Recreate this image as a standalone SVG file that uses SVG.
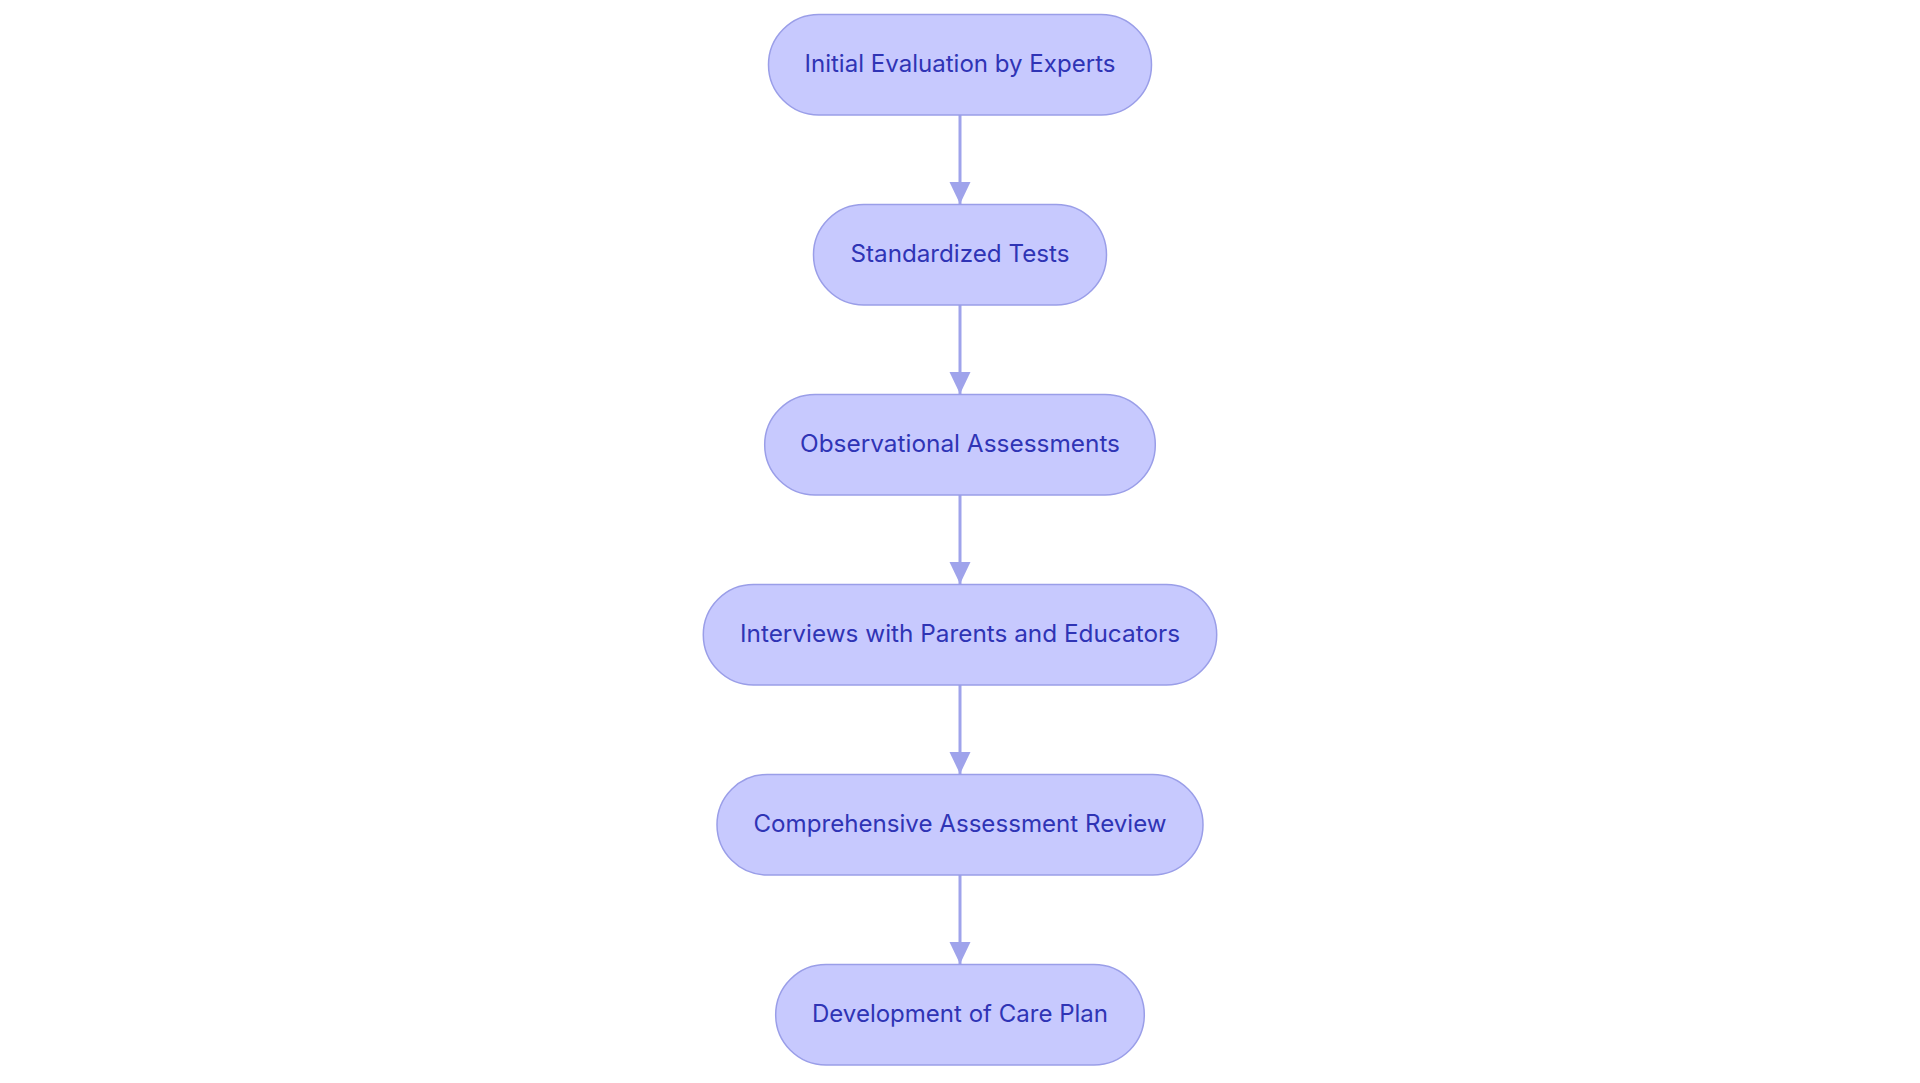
<svg xmlns="http://www.w3.org/2000/svg" width="1920" height="1083" viewBox="0 0 1920 1083">
<style>
.node rect{fill:#C7C9FE;stroke:#9A9EE8;stroke-width:1.5}
.node text{font-family:Inter,"Liberation Sans",sans-serif;font-size:24px;font-weight:400;fill:#2F34B5;text-anchor:middle}
.edge{stroke:#9FA3EB;stroke-width:3;fill:none}
</style>
<defs>
<marker id="arrow" markerUnits="userSpaceOnUse" markerWidth="24" markerHeight="24" refX="22" refY="10.5" orient="auto">
<path d="M0,0 L22,10.5 L0,21 z" fill="#9FA3EB"/>
</marker>
</defs>
<rect width="1920" height="1083" fill="#FFFFFF"/>
<g id="connectors">
<line class="edge" x1="960" y1="115" x2="960" y2="204" marker-end="url(#arrow)"/>
<line class="edge" x1="960" y1="305" x2="960" y2="394" marker-end="url(#arrow)"/>
<line class="edge" x1="960" y1="495" x2="960" y2="584" marker-end="url(#arrow)"/>
<line class="edge" x1="960" y1="685" x2="960" y2="774" marker-end="url(#arrow)"/>
<line class="edge" x1="960" y1="875" x2="960" y2="964" marker-end="url(#arrow)"/>
</g>
<g id="n1" class="node">
<rect x="768.5" y="14.5" width="383" height="100.5" rx="50.25"/>
<text x="960" y="71.5" textLength="311" lengthAdjust="spacingAndGlyphs">Initial Evaluation by Experts</text>
</g>
<g id="n2" class="node">
<rect x="813.5" y="204.5" width="293" height="100.5" rx="50.25"/>
<text x="960" y="261.5" textLength="219" lengthAdjust="spacingAndGlyphs">Standardized Tests</text>
</g>
<g id="n3" class="node">
<rect x="764.7" y="394.5" width="390.6" height="100.5" rx="50.25"/>
<text x="960" y="451.5" textLength="320" lengthAdjust="spacingAndGlyphs">Observational Assessments</text>
</g>
<g id="n4" class="node">
<rect x="703.3" y="584.5" width="513.4" height="100.5" rx="50.25"/>
<text x="960" y="641.5" textLength="440" lengthAdjust="spacingAndGlyphs">Interviews with Parents and Educators</text>
</g>
<g id="n5" class="node">
<rect x="717" y="774.5" width="486" height="100.5" rx="50.25"/>
<text x="960" y="831.5" textLength="413" lengthAdjust="spacingAndGlyphs">Comprehensive Assessment Review</text>
</g>
<g id="n6" class="node">
<rect x="775.7" y="964.5" width="368.6" height="100.5" rx="50.25"/>
<text x="960" y="1021.5" textLength="296" lengthAdjust="spacingAndGlyphs">Development of Care Plan</text>
</g>
</svg>
